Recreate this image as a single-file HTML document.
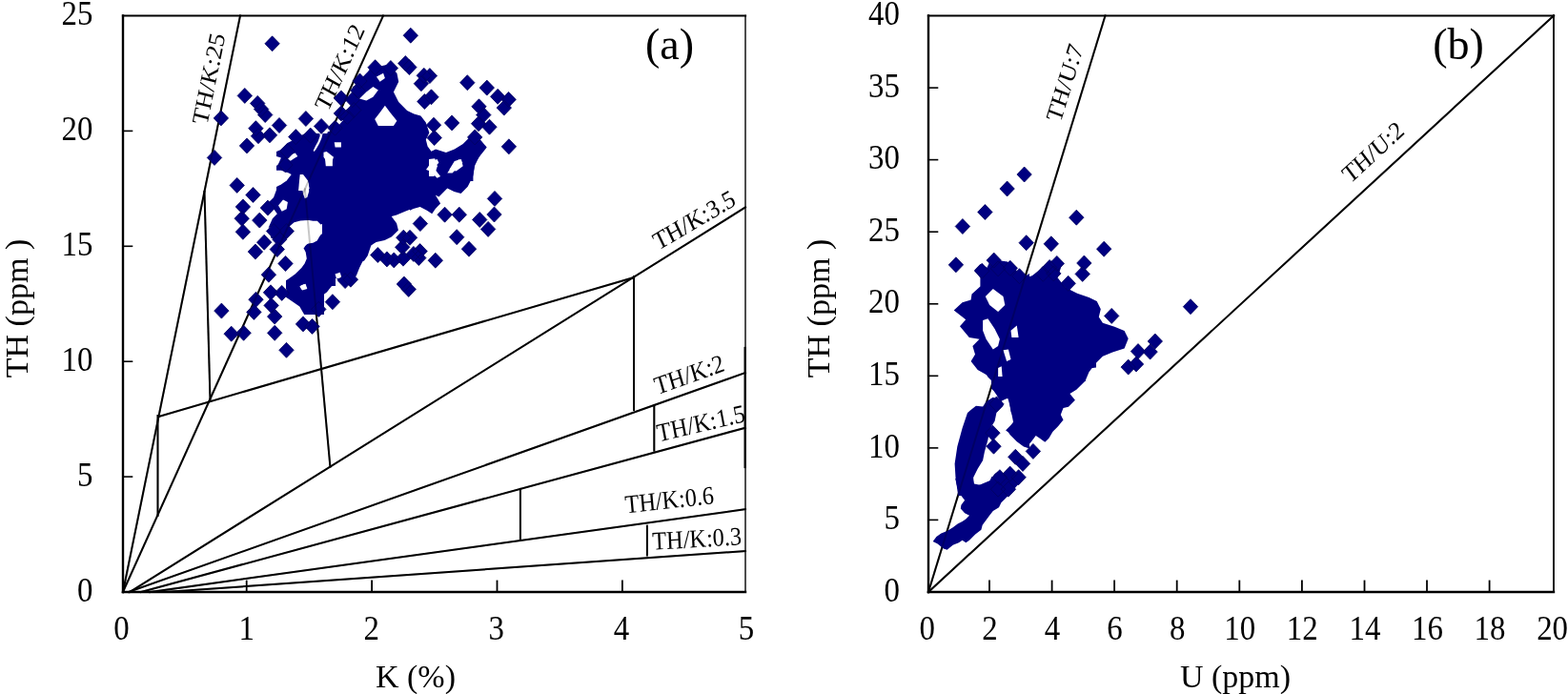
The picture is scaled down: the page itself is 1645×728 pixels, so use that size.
<!DOCTYPE html>
<html><head><meta charset="utf-8"><style>
html,body{margin:0;padding:0;background:#fff;}
svg{display:block;}
</style></head><body>
<svg width="1645" height="728" viewBox="0 0 1645 728">
<rect width="1645" height="728" fill="#fff"/>
<g stroke="#000" fill="none" stroke-linecap="square" stroke-opacity="1.0">
<line x1="129.0" y1="621.0" x2="252.0" y2="16.5" stroke-width="2.0"/>
<line x1="129.0" y1="621.0" x2="402.0" y2="16.5" stroke-width="2.0"/>
<line x1="136.0" y1="621.0" x2="782.0" y2="217.5" stroke-width="2.0"/>
<line x1="135.0" y1="621.0" x2="782.0" y2="391.0" stroke-width="2.0"/>
<line x1="148.0" y1="621.0" x2="782.0" y2="448.7" stroke-width="2.0"/>
<line x1="157.4" y1="621.0" x2="782.0" y2="534.2" stroke-width="2.0"/>
<line x1="173.0" y1="621.0" x2="782.0" y2="578.0" stroke-width="2.0"/>
<line x1="166.6" y1="437.0" x2="665.0" y2="291.0" stroke-width="2.0"/>
<line x1="665.0" y1="290.0" x2="665.0" y2="430.0" stroke-width="2.0"/>
<line x1="214.5" y1="201.0" x2="220.5" y2="420.0" stroke-width="2.0"/>
<line x1="319.9" y1="198.3" x2="346.4" y2="489.5" stroke-width="2.0"/>
<line x1="165.5" y1="436.0" x2="165.5" y2="541.0" stroke-width="2.0"/>
<line x1="686.3" y1="425.6" x2="686.3" y2="472.7" stroke-width="2.0"/>
<line x1="545.9" y1="512.9" x2="545.9" y2="566.0" stroke-width="2.0"/>
<line x1="678.9" y1="551.7" x2="678.9" y2="582.5" stroke-width="2.0"/>
<line x1="974.0" y1="621.0" x2="1630.0" y2="16.5" stroke-width="2.0"/>
<line x1="974.0" y1="621.0" x2="1159.5" y2="16.5" stroke-width="2.0"/>
</g>
<g fill="#000080">
<path d="M343.6 138.6 L352.5 135.0 L361.4 124.3 L368.6 120.7 L372.1 110.0 L375.7 95.7 L380.0 88.6 L380.0 190.0 L307.9 190.0 L316.8 181.4 L325.7 170.7 L332.9 165.4 L340.0 160.0 L341.8 149.3 Z"/>
<path d="M370.0 91.1 L377.1 87.5 L380.7 80.4 L386.1 75.0 L391.4 67.9 L398.6 69.6 L405.7 67.9 L411.1 71.4 L416.4 76.8 L418.2 85.7 L412.9 96.4 L418.2 107.1 L427.1 116.1 L434.3 119.6 L441.4 121.4 L446.8 128.6 L450.4 139.3 L446.8 146.4 L448.6 153.6 L453.9 160.7 L452.1 171.4 L460.0 175.0 L460.0 180.0 L370.0 180.0 Z"/>
<path d="M450.0 160.0 L457.1 156.4 L467.9 160.0 L476.8 156.4 L485.7 151.1 L494.6 142.1 L501.8 143.9 L510.7 154.6 L503.6 163.6 L498.2 170.7 L496.4 185.0 L496.4 190.0 L450.0 190.0 Z"/>
<path d="M308.1 163.7 L314.3 160.0 L340.0 160.0 L340.0 234.2 L336.5 235.4 L332.8 231.7 L319.2 231.7 L310.6 234.2 L304.4 237.9 L301.9 244.1 L299.5 250.0 L284.6 250.0 L280.9 240.4 L285.9 229.2 L290.8 224.3 L287.1 219.3 L282.1 211.9 L287.1 207.0 L290.8 197.1 L299.5 195.9 L303.2 190.9 L304.4 182.3 L308.1 177.3 L311.8 172.4 Z"/>
<path d="M319.2 258.5 L325.4 253.6 L330.4 252.4 L336.5 246.2 L340.0 243.7 L340.0 330.0 L319.2 330.0 L314.3 321.6 L305.6 315.4 L298.2 310.5 L303.2 303.0 L310.6 295.6 L316.8 287.0 L320.5 277.1 L319.2 267.2 Z"/>
<path d="M338.0 160.0 L352.0 160.0 L352.0 300.0 L338.0 300.0 Z"/>
<path d="M290.0 140.0 L350.0 140.0 L350.0 200.0 L290.0 200.0 Z"/>
<path d="M350.0 170.0 L440.0 170.0 L440.0 216.4 L433.9 218.2 L425.0 221.8 L416.1 225.4 L410.7 227.1 L416.1 234.3 L417.9 241.4 L410.7 248.6 L403.6 252.1 L394.6 253.9 L389.3 257.5 L385.7 268.2 L382.1 273.6 L373.2 277.1 L367.9 284.3 L360.7 286.1 L353.6 284.3 L350.0 287.9 Z"/>
<path d="M430.0 160.0 L505.0 160.0 L501.4 167.1 L497.9 174.3 L496.1 185.0 L490.7 195.7 L483.6 202.9 L476.4 201.1 L469.3 197.5 L463.9 202.9 L460.4 206.4 L456.8 204.6 L462.1 213.6 L456.8 218.9 L453.2 224.3 L447.9 220.7 L440.7 217.1 L433.6 218.9 L430.0 220.7 Z"/>
<path d="M317.2 260.0 L385.9 260.0 L382.4 270.3 L377.3 280.6 L373.8 289.2 L368.7 294.3 L363.5 299.5 L356.7 296.1 L351.5 290.9 L349.8 297.8 L342.9 306.4 L336.1 311.5 L330.9 315.0 L334.3 321.8 L336.1 327.0 L330.9 330.4 L324.0 325.3 L317.2 320.1 L310.3 313.2 L303.4 309.8 L300.0 302.9 L300.0 289.2 L306.9 285.8 L313.7 282.3 L318.9 275.5 L320.6 266.9 Z"/>
<path d="M1022.1 283.4 L1028.4 277.1 L1035.5 280.7 L1039.1 272.7 L1043.6 270.0 L1049.8 273.6 L1057.0 274.5 L1065.0 280.7 L1068.6 287.9 L1075.7 289.6 L1080.0 287.0 L1080.0 400.0 L1043.6 400.0 L1043.6 395.0 L1036.4 394.1 L1025.7 387.9 L1018.6 378.9 L1023.0 371.8 L1020.4 362.9 L1027.5 355.7 L1016.8 353.9 L1007.0 342.3 L1013.2 335.2 L1000.7 325.4 L1009.6 317.3 L1018.6 314.6 L1019.5 308.4 L1028.4 300.4 L1028.4 291.4 Z"/>
<path d="M1060.0 289.2 L1068.2 287.1 L1076.5 291.2 L1082.7 289.2 L1090.9 283.0 L1099.2 274.7 L1107.4 272.7 L1113.6 278.9 L1109.5 291.2 L1117.7 301.5 L1130.1 307.7 L1142.5 311.9 L1150.7 316.0 L1154.8 324.2 L1152.8 332.5 L1156.9 338.7 L1169.3 342.8 L1179.6 346.9 L1183.7 355.2 L1179.6 365.5 L1167.2 369.6 L1156.9 373.7 L1148.7 382.0 L1142.5 390.2 L1138.4 400.1 L1060.0 400.1 Z"/>
<path d="M1040.0 380.0 L1150.0 380.0 L1150.0 385.5 L1138.9 386.9 L1136.1 392.4 L1138.9 399.2 L1129.3 408.8 L1122.4 413.0 L1127.9 419.8 L1121.0 426.7 L1115.5 428.1 L1112.8 434.9 L1115.5 440.4 L1110.0 447.3 L1104.5 452.8 L1100.4 459.7 L1096.3 463.8 L1090.8 459.7 L1086.7 456.9 L1082.6 462.4 L1077.1 469.3 L1071.6 463.8 L1064.7 458.3 L1055.1 451.4 L1060.6 445.9 L1064.7 440.4 L1060.6 432.2 L1059.2 423.9 L1060.6 417.1 L1055.1 418.5 L1049.6 421.2 L1045.5 414.3 L1042.7 410.2 L1040.0 407.5 Z"/>
<path d="M1023.9 425.7 L1031.1 426.6 L1034.6 421.2 L1041.8 416.8 L1050.7 420.4 L1052.5 425.7 L1045.4 432.9 L1043.6 441.8 L1038.2 450.7 L1036.4 461.4 L1032.9 473.9 L1031.1 482.9 L1025.7 491.8 L1021.2 500.7 L1020.4 511.4 L1029.3 507.9 L1038.2 504.3 L1043.6 497.1 L1047.1 494.5 L1052.5 498.9 L1048.9 506.1 L1043.6 513.2 L1045.4 520.0 L1005.2 520.0 L1002.5 500.7 L1001.6 486.4 L1004.3 468.6 L1009.6 448.9 L1015.0 432.9 Z"/>
<path d="M1032.9 390.0 L1080.0 390.0 L1080.0 470.4 L1073.9 468.6 L1066.8 463.2 L1059.6 456.1 L1056.1 450.7 L1063.2 443.6 L1061.4 434.6 L1059.6 425.7 L1057.0 416.8 L1050.7 416.8 L1045.4 411.4 L1043.6 402.5 L1036.4 395.4 Z"/>
<path d="M1002.2 501.9 L1007.2 500.0 L1020.8 500.0 L1022.0 507.4 L1028.2 508.7 L1035.6 512.4 L1041.8 516.1 L1046.7 516.1 L1048.0 512.4 L1044.3 507.4 L1039.3 502.5 L1040.5 500.0 L1073.9 500.0 L1072.7 503.7 L1066.5 509.9 L1061.6 516.1 L1054.2 523.5 L1050.4 527.2 L1048.0 532.2 L1041.8 535.9 L1038.1 540.8 L1034.4 545.8 L1030.7 550.7 L1029.4 555.7 L1023.2 560.6 L1017.0 566.8 L1013.3 569.3 L1009.6 566.8 L1005.9 569.3 L999.7 571.7 L993.6 576.7 L989.8 575.4 L983.7 570.5 L978.7 568.0 L982.4 563.1 L987.4 559.4 L993.6 556.9 L999.7 553.2 L1004.7 549.5 L1009.6 547.0 L1013.3 544.5 L1017.0 540.8 L1012.1 538.3 L1007.8 533.4 L1008.4 529.7 L1012.1 524.7 L1007.2 518.6 L1004.7 512.4 L1003.4 507.4 Z"/>
</g><g fill="#fff">
<path d="M340.9 165.4 L348.9 165.4 L348.9 174.3 L341.8 174.3 Z"/>
<path d="M350.7 149.3 L357.9 149.3 L357.9 154.6 L351.6 154.6 Z"/>
<path d="M393.2 125.0 L398.6 117.9 L403.9 110.7 L409.3 117.9 L416.4 126.8 L412.9 132.1 L396.8 132.1 Z"/>
<path d="M377.1 103.6 L384.3 96.4 L391.4 91.1 L396.8 94.6 L391.4 101.8 L384.3 105.4 Z"/>
<path d="M395.0 80.4 L402.1 76.8 L403.9 82.1 L398.6 85.7 Z"/>
<path d="M450.0 167.1 L456.2 166.2 L458.9 174.3 L455.4 185.0 L450.0 185.0 Z"/>
<path d="M471.4 177.9 L476.8 168.9 L483.9 167.1 L485.7 174.3 L478.6 179.6 Z"/>
<path d="M317.4 188.4 L320.5 187.2 L323.6 192.1 L324.2 200.8 L322.3 207.0 L319.8 208.2 L318.0 203.3 L316.8 195.9 Z"/>
<path d="M292.0 215.6 L297.0 209.5 L301.9 211.9 L300.7 219.3 L295.7 221.8 Z"/>
<path d="M314.3 300.6 L319.2 298.1 L321.7 301.8 L316.8 304.3 Z"/>
<path d="M290.0 140.0 L319.7 140.0 L317.2 141.6 L311.4 144.1 L306.5 147.4 L301.5 149.9 L294.1 157.3 L290.0 159.0 Z"/>
<path d="M335.3 140.0 L338.6 140.0 L337.4 144.9 L334.9 150.7 L331.6 156.5 L329.6 159.0 L328.7 158.1 L330.8 153.6 L333.7 148.2 L335.7 142.5 Z"/>
<path d="M339.5 159.8 L342.7 159.0 L350.0 164.7 L347.7 171.3 L343.6 170.5 L339.5 164.7 Z"/>
<path d="M290.0 163.9 L294.9 165.5 L291.6 173.0 L290.0 173.8 Z"/>
<path d="M302.4 163.1 L309.8 160.6 L312.3 163.9 L308.1 166.4 L304.8 168.8 L300.7 165.5 Z"/>
<path d="M290.0 178.7 L294.9 178.7 L302.4 181.2 L305.7 182.9 L300.7 189.5 L294.9 193.6 L290.0 196.0 Z"/>
<path d="M314.7 182.9 L318.0 182.9 L323.0 189.5 L324.6 197.7 L323.0 200.0 L313.1 200.0 L313.9 191.1 Z"/>
<path d="M304.2 237.1 L308.6 233.2 L315.2 231.6 L324.0 231.0 L331.6 232.7 L334.9 236.0 L337.1 244.8 L332.7 252.5 L328.4 254.7 L321.8 255.8 L318.5 260.2 L320.7 264.6 L321.8 271.2 L319.6 276.6 L316.3 281.0 L309.7 287.6 L302.0 293.1 L294.3 297.5 L289.9 296.4 L286.6 292.0 L289.9 286.5 L286.6 282.1 L289.9 276.6 L288.8 269.0 L293.2 264.6 L298.7 262.4 L302.0 258.0 L300.9 252.5 L302.0 245.9 Z"/>
<path d="M280.0 239.3 L284.4 238.2 L287.7 243.7 L284.4 248.1 L280.0 247.0 Z"/>
<path d="M280.0 258.0 L283.3 256.9 L285.5 261.3 L282.2 264.6 L280.0 263.5 Z"/>
<path d="M447.0 177.9 L453.2 168.9 L458.6 167.1 L460.4 170.7 L455.0 176.1 L462.1 185.0 L458.6 186.8 L451.4 179.6 Z"/>
<path d="M469.3 181.4 L476.4 170.7 L481.8 167.1 L485.4 170.7 L480.0 176.1 L474.6 181.4 Z"/>
<path d="M315.5 299.5 L320.6 297.8 L322.3 302.9 L317.2 304.6 Z"/>
<path d="M351.5 287.5 L356.7 285.8 L358.4 290.9 L353.2 292.6 Z"/>
<path d="M1033.8 311.1 L1041.8 303.0 L1052.5 311.1 L1054.3 320.0 L1047.1 327.1 L1038.2 320.0 Z"/>
<path d="M1031.1 336.1 L1036.4 334.3 L1043.6 345.0 L1048.9 355.7 L1047.1 362.9 L1041.8 366.4 L1034.6 355.7 L1031.1 346.8 Z"/>
<path d="M1060.5 346.8 L1066.8 341.4 L1068.6 353.9 L1061.4 353.9 Z"/>
<path d="M1052.5 367.3 L1057.9 366.4 L1060.5 377.1 L1056.1 378.9 Z"/>
<path d="M1047.1 386.1 L1050.7 384.3 L1051.6 395.0 L1047.1 395.0 Z"/>
</g>
<g fill="#000080" stroke="#000060" stroke-width="0.8">
<path d="M285.6 37.8l7.7 8.0l-7.7 8.0l-7.7-8.0zM256.8 92.4l7.7 8.0l-7.7 8.0l-7.7-8.0zM270.2 100.4l7.7 8.0l-7.7 8.0l-7.7-8.0zM274.1 106.5l7.7 8.0l-7.7 8.0l-7.7-8.0zM278.2 112.5l7.7 8.0l-7.7 8.0l-7.7-8.0zM231.9 115.9l7.7 8.0l-7.7 8.0l-7.7-8.0zM293.0 123.5l7.7 8.0l-7.7 8.0l-7.7-8.0zM268.4 126.7l7.7 8.0l-7.7 8.0l-7.7-8.0zM283.0 133.8l7.7 8.0l-7.7 8.0l-7.7-8.0zM271.0 134.7l7.7 8.0l-7.7 8.0l-7.7-8.0zM430.8 29.2l7.7 8.0l-7.7 8.0l-7.7-8.0zM425.3 58.5l7.7 8.0l-7.7 8.0l-7.7-8.0zM393.6 62.7l7.7 8.0l-7.7 8.0l-7.7-8.0zM409.9 63.5l7.7 8.0l-7.7 8.0l-7.7-8.0zM320.9 116.5l7.7 8.0l-7.7 8.0l-7.7-8.0zM337.1 124.4l7.7 8.0l-7.7 8.0l-7.7-8.0zM351.5 126.2l7.7 8.0l-7.7 8.0l-7.7-8.0zM325.7 134.1l7.7 8.0l-7.7 8.0l-7.7-8.0zM310.3 135.6l7.7 8.0l-7.7 8.0l-7.7-8.0zM429.4 62.6l7.7 8.0l-7.7 8.0l-7.7-8.0zM444.8 71.3l7.7 8.0l-7.7 8.0l-7.7-8.0zM441.9 79.7l7.7 8.0l-7.7 8.0l-7.7-8.0zM452.5 93.8l7.7 8.0l-7.7 8.0l-7.7-8.0zM445.4 98.5l7.7 8.0l-7.7 8.0l-7.7-8.0zM490.3 78.7l7.7 8.0l-7.7 8.0l-7.7-8.0zM510.8 84.1l7.7 8.0l-7.7 8.0l-7.7-8.0zM522.2 93.3l7.7 8.0l-7.7 8.0l-7.7-8.0zM533.6 96.4l7.7 8.0l-7.7 8.0l-7.7-8.0zM528.8 105.1l7.7 8.0l-7.7 8.0l-7.7-8.0zM502.5 103.8l7.7 8.0l-7.7 8.0l-7.7-8.0zM507.3 112.6l7.7 8.0l-7.7 8.0l-7.7-8.0zM502.1 121.7l7.7 8.0l-7.7 8.0l-7.7-8.0zM513.5 125.2l7.7 8.0l-7.7 8.0l-7.7-8.0zM474.1 120.9l7.7 8.0l-7.7 8.0l-7.7-8.0zM455.0 123.2l7.7 8.0l-7.7 8.0l-7.7-8.0zM225.0 157.4l7.7 8.0l-7.7 8.0l-7.7-8.0zM259.0 144.9l7.7 8.0l-7.7 8.0l-7.7-8.0zM301.6 150.8l7.7 8.0l-7.7 8.0l-7.7-8.0zM248.7 186.4l7.7 8.0l-7.7 8.0l-7.7-8.0zM357.9 94.9l7.7 8.0l-7.7 8.0l-7.7-8.0zM357.9 110.9l7.7 8.0l-7.7 8.0l-7.7-8.0zM377.5 77.0l7.7 8.0l-7.7 8.0l-7.7-8.0zM455.7 136.6l7.7 8.0l-7.7 8.0l-7.7-8.0zM450.9 71.6l7.7 8.0l-7.7 8.0l-7.7-8.0zM533.9 145.8l7.7 8.0l-7.7 8.0l-7.7-8.0zM498.2 135.9l7.7 8.0l-7.7 8.0l-7.7-8.0zM299.5 165.0l7.7 8.0l-7.7 8.0l-7.7-8.0zM265.5 196.5l7.7 8.0l-7.7 8.0l-7.7-8.0zM254.9 208.9l7.7 8.0l-7.7 8.0l-7.7-8.0zM253.7 221.2l7.7 8.0l-7.7 8.0l-7.7-8.0zM254.9 235.3l7.7 8.0l-7.7 8.0l-7.7-8.0zM272.3 223.1l7.7 8.0l-7.7 8.0l-7.7-8.0zM280.9 210.1l7.7 8.0l-7.7 8.0l-7.7-8.0zM277.2 246.2l7.7 8.0l-7.7 8.0l-7.7-8.0zM267.9 256.1l7.7 8.0l-7.7 8.0l-7.7-8.0zM290.8 253.6l7.7 8.0l-7.7 8.0l-7.7-8.0zM293.3 243.1l7.7 8.0l-7.7 8.0l-7.7-8.0zM287.1 234.5l7.7 8.0l-7.7 8.0l-7.7-8.0zM299.5 268.5l7.7 8.0l-7.7 8.0l-7.7-8.0zM281.9 280.2l7.7 8.0l-7.7 8.0l-7.7-8.0zM284.0 298.8l7.7 8.0l-7.7 8.0l-7.7-8.0zM295.7 299.4l7.7 8.0l-7.7 8.0l-7.7-8.0zM268.5 306.2l7.7 8.0l-7.7 8.0l-7.7-8.0zM284.6 312.4l7.7 8.0l-7.7 8.0l-7.7-8.0zM266.4 319.4l7.7 8.0l-7.7 8.0l-7.7-8.0zM300.7 234.5l7.7 8.0l-7.7 8.0l-7.7-8.0zM375.3 86.9l7.7 8.0l-7.7 8.0l-7.7-8.0zM369.8 96.6l7.7 8.0l-7.7 8.0l-7.7-8.0zM371.2 107.5l7.7 8.0l-7.7 8.0l-7.7-8.0zM364.3 114.4l7.7 8.0l-7.7 8.0l-7.7-8.0zM423.3 241.2l7.7 8.0l-7.7 8.0l-7.7-8.0zM440.9 226.6l7.7 8.0l-7.7 8.0l-7.7-8.0zM396.3 259.5l7.7 8.0l-7.7 8.0l-7.7-8.0zM405.9 263.9l7.7 8.0l-7.7 8.0l-7.7-8.0zM423.0 263.2l7.7 8.0l-7.7 8.0l-7.7-8.0zM433.9 258.4l7.7 8.0l-7.7 8.0l-7.7-8.0zM423.9 290.0l7.7 8.0l-7.7 8.0l-7.7-8.0zM362.1 286.6l7.7 8.0l-7.7 8.0l-7.7-8.0zM367.9 285.2l7.7 8.0l-7.7 8.0l-7.7-8.0zM466.6 217.2l7.7 8.0l-7.7 8.0l-7.7-8.0zM481.8 217.2l7.7 8.0l-7.7 8.0l-7.7-8.0zM503.2 222.5l7.7 8.0l-7.7 8.0l-7.7-8.0zM512.1 232.4l7.7 8.0l-7.7 8.0l-7.7-8.0zM518.5 217.0l7.7 8.0l-7.7 8.0l-7.7-8.0zM519.0 200.4l7.7 8.0l-7.7 8.0l-7.7-8.0zM479.2 240.7l7.7 8.0l-7.7 8.0l-7.7-8.0zM492.0 253.2l7.7 8.0l-7.7 8.0l-7.7-8.0zM439.3 262.6l7.7 8.0l-7.7 8.0l-7.7-8.0zM456.8 265.2l7.7 8.0l-7.7 8.0l-7.7-8.0zM430.0 241.3l7.7 8.0l-7.7 8.0l-7.7-8.0zM440.6 255.6l7.7 8.0l-7.7 8.0l-7.7-8.0zM422.2 251.3l7.7 8.0l-7.7 8.0l-7.7-8.0zM288.2 324.1l7.7 8.0l-7.7 8.0l-7.7-8.0zM232.4 318.1l7.7 8.0l-7.7 8.0l-7.7-8.0zM242.7 342.2l7.7 8.0l-7.7 8.0l-7.7-8.0zM255.6 341.3l7.7 8.0l-7.7 8.0l-7.7-8.0zM288.2 341.3l7.7 8.0l-7.7 8.0l-7.7-8.0zM300.5 359.3l7.7 8.0l-7.7 8.0l-7.7-8.0zM348.9 308.7l7.7 8.0l-7.7 8.0l-7.7-8.0zM334.3 316.4l7.7 8.0l-7.7 8.0l-7.7-8.0zM318.0 331.9l7.7 8.0l-7.7 8.0l-7.7-8.0zM327.5 334.4l7.7 8.0l-7.7 8.0l-7.7-8.0zM413.3 264.9l7.7 8.0l-7.7 8.0l-7.7-8.0zM428.7 295.4l7.7 8.0l-7.7 8.0l-7.7-8.0z"/>
<path d="M1074.6 175.0l7.7 8.0l-7.7 8.0l-7.7-8.0zM1056.6 190.0l7.7 8.0l-7.7 8.0l-7.7-8.0zM1033.4 214.5l7.7 8.0l-7.7 8.0l-7.7-8.0zM1009.9 229.5l7.7 8.0l-7.7 8.0l-7.7-8.0zM1076.7 246.7l7.7 8.0l-7.7 8.0l-7.7-8.0zM1102.8 247.8l7.7 8.0l-7.7 8.0l-7.7-8.0zM1002.9 269.8l7.7 8.0l-7.7 8.0l-7.7-8.0zM1042.7 265.1l7.7 8.0l-7.7 8.0l-7.7-8.0zM1030.2 276.3l7.7 8.0l-7.7 8.0l-7.7-8.0zM1047.1 273.8l7.7 8.0l-7.7 8.0l-7.7-8.0zM1059.8 273.3l7.7 8.0l-7.7 8.0l-7.7-8.0zM1069.5 281.7l7.7 8.0l-7.7 8.0l-7.7-8.0zM1101.1 272.5l7.7 8.0l-7.7 8.0l-7.7-8.0zM1129.3 220.2l7.7 8.0l-7.7 8.0l-7.7-8.0zM1158.2 253.2l7.7 8.0l-7.7 8.0l-7.7-8.0zM1137.4 268.0l7.7 8.0l-7.7 8.0l-7.7-8.0zM1135.7 279.4l7.7 8.0l-7.7 8.0l-7.7-8.0zM1108.8 268.4l7.7 8.0l-7.7 8.0l-7.7-8.0zM1105.3 278.9l7.7 8.0l-7.7 8.0l-7.7-8.0zM1094.3 279.3l7.7 8.0l-7.7 8.0l-7.7-8.0zM1120.7 289.3l7.7 8.0l-7.7 8.0l-7.7-8.0zM1166.2 323.4l7.7 8.0l-7.7 8.0l-7.7-8.0zM1194.0 360.6l7.7 8.0l-7.7 8.0l-7.7-8.0zM1183.7 377.1l7.7 8.0l-7.7 8.0l-7.7-8.0zM1192.0 374.0l7.7 8.0l-7.7 8.0l-7.7-8.0zM1211.8 350.0l7.7 8.0l-7.7 8.0l-7.7-8.0zM1206.6 361.1l7.7 8.0l-7.7 8.0l-7.7-8.0zM1083.9 465.4l7.7 8.0l-7.7 8.0l-7.7-8.0zM1065.3 471.3l7.7 8.0l-7.7 8.0l-7.7-8.0zM1042.5 460.2l7.7 8.0l-7.7 8.0l-7.7-8.0zM1041.4 446.2l7.7 8.0l-7.7 8.0l-7.7-8.0zM1045.5 415.9l7.7 8.0l-7.7 8.0l-7.7-8.0zM1073.0 478.4l7.7 8.0l-7.7 8.0l-7.7-8.0zM1048.9 492.7l7.7 8.0l-7.7 8.0l-7.7-8.0zM1059.6 489.1l7.7 8.0l-7.7 8.0l-7.7-8.0zM1068.6 492.7l7.7 8.0l-7.7 8.0l-7.7-8.0zM1047.1 505.2l7.7 8.0l-7.7 8.0l-7.7-8.0zM1057.9 505.2l7.7 8.0l-7.7 8.0l-7.7-8.0zM1249.0 313.7l7.7 8.0l-7.7 8.0l-7.7-8.0z"/>
</g>
<g stroke="#000" fill="none" stroke-linecap="square" stroke-opacity="0.22">
<line x1="129.0" y1="621.0" x2="252.0" y2="16.5" stroke-width="2.0"/>
<line x1="129.0" y1="621.0" x2="402.0" y2="16.5" stroke-width="2.0"/>
<line x1="136.0" y1="621.0" x2="782.0" y2="217.5" stroke-width="2.0"/>
<line x1="135.0" y1="621.0" x2="782.0" y2="391.0" stroke-width="2.0"/>
<line x1="148.0" y1="621.0" x2="782.0" y2="448.7" stroke-width="2.0"/>
<line x1="157.4" y1="621.0" x2="782.0" y2="534.2" stroke-width="2.0"/>
<line x1="173.0" y1="621.0" x2="782.0" y2="578.0" stroke-width="2.0"/>
<line x1="166.6" y1="437.0" x2="665.0" y2="291.0" stroke-width="2.0"/>
<line x1="665.0" y1="290.0" x2="665.0" y2="430.0" stroke-width="2.0"/>
<line x1="214.5" y1="201.0" x2="220.5" y2="420.0" stroke-width="2.0"/>
<line x1="319.9" y1="198.3" x2="346.4" y2="489.5" stroke-width="2.0"/>
<line x1="165.5" y1="436.0" x2="165.5" y2="541.0" stroke-width="2.0"/>
<line x1="686.3" y1="425.6" x2="686.3" y2="472.7" stroke-width="2.0"/>
<line x1="545.9" y1="512.9" x2="545.9" y2="566.0" stroke-width="2.0"/>
<line x1="678.9" y1="551.7" x2="678.9" y2="582.5" stroke-width="2.0"/>
<line x1="974.0" y1="621.0" x2="1630.0" y2="16.5" stroke-width="2.0"/>
<line x1="974.0" y1="621.0" x2="1159.5" y2="16.5" stroke-width="2.0"/>
</g>
<g stroke="#000" fill="none" stroke-linecap="square">
<line x1="129.0" y1="16.5" x2="782.0" y2="16.5" stroke-width="2.2"/>
<line x1="782.0" y1="16.5" x2="782.0" y2="621.0" stroke-width="1.4"/>
<line x1="781.6" y1="365.0" x2="781.6" y2="490.0" stroke-width="2.2"/>
<line x1="129.0" y1="16.5" x2="129.0" y2="621.0" stroke-width="2.4"/>
<line x1="129.0" y1="621.0" x2="782.0" y2="621.0" stroke-width="2.4"/>
<line x1="129.0" y1="500.1" x2="138.5" y2="500.1" stroke-width="1.6"/>
<line x1="129.0" y1="379.2" x2="138.5" y2="379.2" stroke-width="1.6"/>
<line x1="129.0" y1="258.3" x2="138.5" y2="258.3" stroke-width="1.6"/>
<line x1="129.0" y1="137.4" x2="138.5" y2="137.4" stroke-width="1.6"/>
<line x1="258.7" y1="621.0" x2="258.7" y2="609.5" stroke-width="1.8"/>
<line x1="390.1" y1="621.0" x2="390.1" y2="609.5" stroke-width="1.8"/>
<line x1="521.5" y1="621.0" x2="521.5" y2="609.5" stroke-width="1.8"/>
<line x1="652.9" y1="621.0" x2="652.9" y2="609.5" stroke-width="1.8"/>
</g>
<g stroke="#000" fill="none" stroke-linecap="square">
<line x1="974.0" y1="16.5" x2="1630.0" y2="16.5" stroke-width="2.2"/>
<line x1="1630.0" y1="16.5" x2="1630.0" y2="621.0" stroke-width="1.8"/>
<line x1="974.0" y1="16.5" x2="974.0" y2="621.0" stroke-width="2.4"/>
<line x1="974.0" y1="621.0" x2="1630.0" y2="621.0" stroke-width="2.4"/>
<line x1="974.0" y1="545.4" x2="983.5" y2="545.4" stroke-width="1.6"/>
<line x1="974.0" y1="469.9" x2="983.5" y2="469.9" stroke-width="1.6"/>
<line x1="974.0" y1="394.3" x2="983.5" y2="394.3" stroke-width="1.6"/>
<line x1="974.0" y1="318.8" x2="983.5" y2="318.8" stroke-width="1.6"/>
<line x1="974.0" y1="243.2" x2="983.5" y2="243.2" stroke-width="1.6"/>
<line x1="974.0" y1="167.6" x2="983.5" y2="167.6" stroke-width="1.6"/>
<line x1="974.0" y1="92.1" x2="983.5" y2="92.1" stroke-width="1.6"/>
<line x1="1038.0" y1="621.0" x2="1038.0" y2="609.5" stroke-width="1.8"/>
<line x1="1103.6" y1="621.0" x2="1103.6" y2="609.5" stroke-width="1.8"/>
<line x1="1169.1" y1="621.0" x2="1169.1" y2="609.5" stroke-width="1.8"/>
<line x1="1234.7" y1="621.0" x2="1234.7" y2="609.5" stroke-width="1.8"/>
<line x1="1300.3" y1="621.0" x2="1300.3" y2="609.5" stroke-width="1.8"/>
<line x1="1365.9" y1="621.0" x2="1365.9" y2="609.5" stroke-width="1.8"/>
<line x1="1431.5" y1="621.0" x2="1431.5" y2="609.5" stroke-width="1.8"/>
<line x1="1497.0" y1="621.0" x2="1497.0" y2="609.5" stroke-width="1.8"/>
<line x1="1562.6" y1="621.0" x2="1562.6" y2="609.5" stroke-width="1.8"/>
</g>
<g font-family="Liberation Serif, Times New Roman, serif" fill="#000">
<text transform="translate(97.5,630.6) scale(0.94,1)" font-size="35" text-anchor="end">0</text>
<text transform="translate(97.5,509.7) scale(0.94,1)" font-size="35" text-anchor="end">5</text>
<text transform="translate(97.5,388.8) scale(0.94,1)" font-size="35" text-anchor="end">10</text>
<text transform="translate(97.5,267.9) scale(0.94,1)" font-size="35" text-anchor="end">15</text>
<text transform="translate(97.5,147.0) scale(0.94,1)" font-size="35" text-anchor="end">20</text>
<text transform="translate(97.5,26.1) scale(0.94,1)" font-size="35" text-anchor="end">25</text>
<text transform="translate(127.5,671.0) scale(0.94,1)" font-size="35" text-anchor="middle">0</text>
<text transform="translate(258.6,671.0) scale(0.94,1)" font-size="35" text-anchor="middle">1</text>
<text transform="translate(389.7,671.0) scale(0.94,1)" font-size="35" text-anchor="middle">2</text>
<text transform="translate(520.8,671.0) scale(0.94,1)" font-size="35" text-anchor="middle">3</text>
<text transform="translate(651.9,671.0) scale(0.94,1)" font-size="35" text-anchor="middle">4</text>
<text transform="translate(783.0,671.0) scale(0.94,1)" font-size="35" text-anchor="middle">5</text>
<text transform="translate(944.0,630.6) scale(0.94,1)" font-size="35" text-anchor="end">0</text>
<text transform="translate(944.0,555.0) scale(0.94,1)" font-size="35" text-anchor="end">5</text>
<text transform="translate(944.0,479.5) scale(0.94,1)" font-size="35" text-anchor="end">10</text>
<text transform="translate(944.0,403.9) scale(0.94,1)" font-size="35" text-anchor="end">15</text>
<text transform="translate(944.0,328.4) scale(0.94,1)" font-size="35" text-anchor="end">20</text>
<text transform="translate(944.0,252.8) scale(0.94,1)" font-size="35" text-anchor="end">25</text>
<text transform="translate(944.0,177.2) scale(0.94,1)" font-size="35" text-anchor="end">30</text>
<text transform="translate(944.0,101.7) scale(0.94,1)" font-size="35" text-anchor="end">35</text>
<text transform="translate(944.0,26.1) scale(0.94,1)" font-size="35" text-anchor="end">40</text>
<text transform="translate(972.8,671.0) scale(0.94,1)" font-size="35" text-anchor="middle">0</text>
<text transform="translate(1038.4,671.0) scale(0.94,1)" font-size="35" text-anchor="middle">2</text>
<text transform="translate(1104.0,671.0) scale(0.94,1)" font-size="35" text-anchor="middle">4</text>
<text transform="translate(1169.5,671.0) scale(0.94,1)" font-size="35" text-anchor="middle">6</text>
<text transform="translate(1235.1,671.0) scale(0.94,1)" font-size="35" text-anchor="middle">8</text>
<text transform="translate(1300.7,671.0) scale(0.94,1)" font-size="35" text-anchor="middle">10</text>
<text transform="translate(1366.3,671.0) scale(0.94,1)" font-size="35" text-anchor="middle">12</text>
<text transform="translate(1431.9,671.0) scale(0.94,1)" font-size="35" text-anchor="middle">14</text>
<text transform="translate(1497.4,671.0) scale(0.94,1)" font-size="35" text-anchor="middle">16</text>
<text transform="translate(1563.0,671.0) scale(0.94,1)" font-size="35" text-anchor="middle">18</text>
<text transform="translate(1628.6,671.0) scale(0.94,1)" font-size="35" text-anchor="middle">20</text>
<text transform="translate(436.0,720.5) scale(1.0,1)" font-size="34" text-anchor="middle">K (%)</text>
<text transform="translate(1296.0,720.5) scale(1.0,1)" font-size="34" text-anchor="middle">U (ppm)</text>
<text transform="translate(29.0,323.5) rotate(-90.00) scale(1.0,1)" font-size="34" text-anchor="middle">TH (ppm )</text>
<text transform="translate(870.0,323.5) rotate(-90.00) scale(1.0,1)" font-size="34" text-anchor="middle">TH (ppm )</text>
<text transform="translate(702.5,62.0) scale(1.0,1)" font-size="46" text-anchor="middle">(a)</text>
<text transform="translate(1530.0,62.0) scale(1.0,1)" font-size="46" text-anchor="middle">(b)</text>
<text transform="translate(217.2,132.1) scale(0.9,1) rotate(-77.30)" font-size="27" text-anchor="start">TH/K:25</text>
<text transform="translate(343.9,118.3) scale(0.9,1) rotate(-63.35)" font-size="27" text-anchor="start">TH/K:12</text>
<text transform="translate(690.4,263.1) scale(0.9,1) rotate(-27.90)" font-size="27" text-anchor="start">TH/K:3.5</text>
<text transform="translate(689.4,414.2) scale(0.9,1) rotate(-17.70)" font-size="27" text-anchor="start">TH/K:2</text>
<text transform="translate(691.1,463.4) scale(0.9,1) rotate(-11.90)" font-size="27" text-anchor="start">TH/K:1.5</text>
<text transform="translate(656.4,538.4) scale(0.9,1) rotate(-5.70)" font-size="27" text-anchor="start">TH/K:0.6</text>
<text transform="translate(684.8,576.8) scale(0.9,1) rotate(-3.06)" font-size="27" text-anchor="start">TH/K:0.3</text>
<text transform="translate(1112.5,129.6) scale(0.9,1) rotate(-71.10)" font-size="27" text-anchor="start">TH/U:7</text>
<text transform="translate(1416.4,193.2) scale(0.9,1) rotate(-39.70)" font-size="27" text-anchor="start">TH/U:2</text>
</g>
</svg>
</body></html>
